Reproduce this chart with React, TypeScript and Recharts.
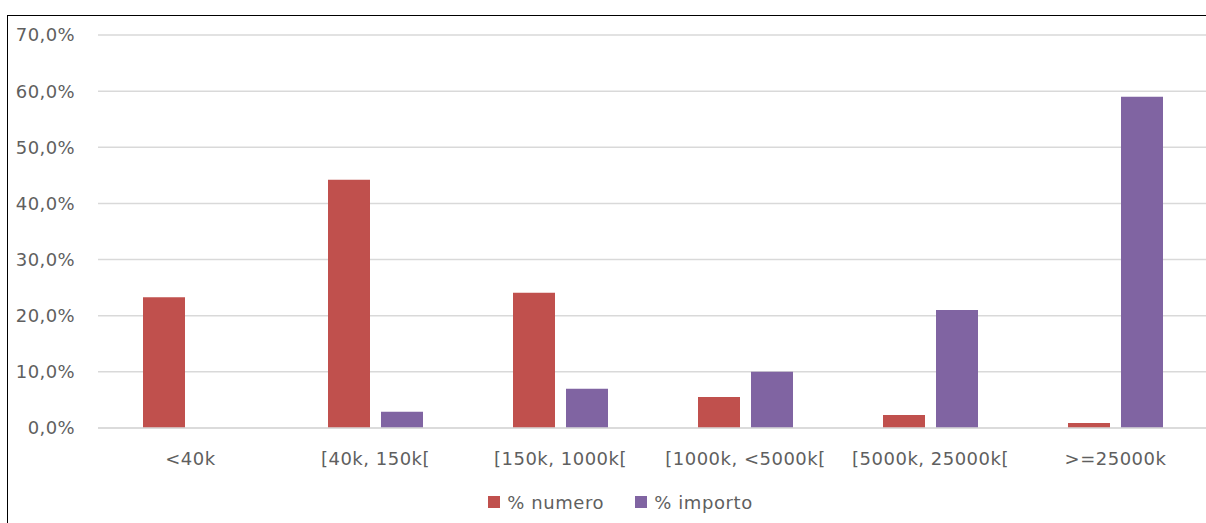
import { BarChart, Bar, XAxis, YAxis, CartesianGrid, Legend } from 'recharts';

const categories = ['<40k', '[40k, 150k[', '[150k, 1000k[', '[1000k, <5000k[', '[5000k, 25000k[', '>=25000k'];
const numero = [23.3, 44.2, 24.1, 5.5, 2.3, 0.9];
const importo = [0, 2.9, 7.0, 10.0, 21.0, 59.0];
const yTicks = [0, 10, 20, 30, 40, 50, 60, 70];

const RED = '#C0504D';
const PURPLE = '#8064A2';
const TEXT = '#5F5F5F';
const FONT = '"DejaVu Sans", sans-serif';

const data = categories.map((c, i) => ({ name: c, numero: numero[i], importo: importo[i] }));

const fmt = (v: number) => v.toFixed(1).replace('.', ',') + '%';

function LegendBox() {
  const items = [
    { label: '% numero', color: RED },
    { label: '% importo', color: PURPLE },
  ];
  return (
    <div style={{ display: 'flex', justifyContent: 'center', alignItems: 'center', height: 20, marginLeft: 24, fontFamily: FONT, fontSize: 18, letterSpacing: 0.6, color: TEXT }}>
      {items.map((it, i) => (
        <div key={it.label} style={{ display: 'flex', alignItems: 'center', marginRight: i === 0 ? 31 : 0 }}>
          <span style={{ width: 12, height: 12, background: it.color, display: 'inline-block', marginRight: 7 }} />
          <span>{it.label}</span>
        </div>
      ))}
    </div>
  );
}

export default function App() {
  return (
    <div style={{ position: 'absolute', left: 7, top: 15, width: 1199, height: 508, overflow: 'hidden', borderLeft: '1px solid #000', borderTop: '1px solid #000', background: '#fff' }}>
      <BarChart
        width={1200}
        height={507}
        data={data}
        margin={{ top: 19, right: 0, left: 1, bottom: 11 }}
        barCategoryGap={45}
        barGap={11}
      >
        <CartesianGrid vertical={false} stroke="#D9D9D9" strokeWidth={1.5} />
        <XAxis
          dataKey="name"
          height={64}
          axisLine={{ stroke: '#D9D9D9', strokeWidth: 1.5 }}
          tickLine={false}
          tickSize={0}
          tickMargin={24}
          interval={0}
          tick={{ fill: TEXT, fontSize: 18, fontFamily: FONT, letterSpacing: 0.5 }}
        />
        <YAxis
          width={89}
          domain={[0, 70]}
          ticks={yTicks}
          tickFormatter={fmt}
          axisLine={false}
          tickLine={false}
          tickSize={0}
          tickMargin={23}
          tick={{ fill: TEXT, fontSize: 18, fontFamily: FONT, letterSpacing: 0.4 }}
        />
        <Legend verticalAlign="bottom" content={() => <LegendBox />} />
        <Bar dataKey="numero" name="% numero" fill={RED} isAnimationActive={false} />
        <Bar dataKey="importo" name="% importo" fill={PURPLE} isAnimationActive={false} />
      </BarChart>
    </div>
  );
}
